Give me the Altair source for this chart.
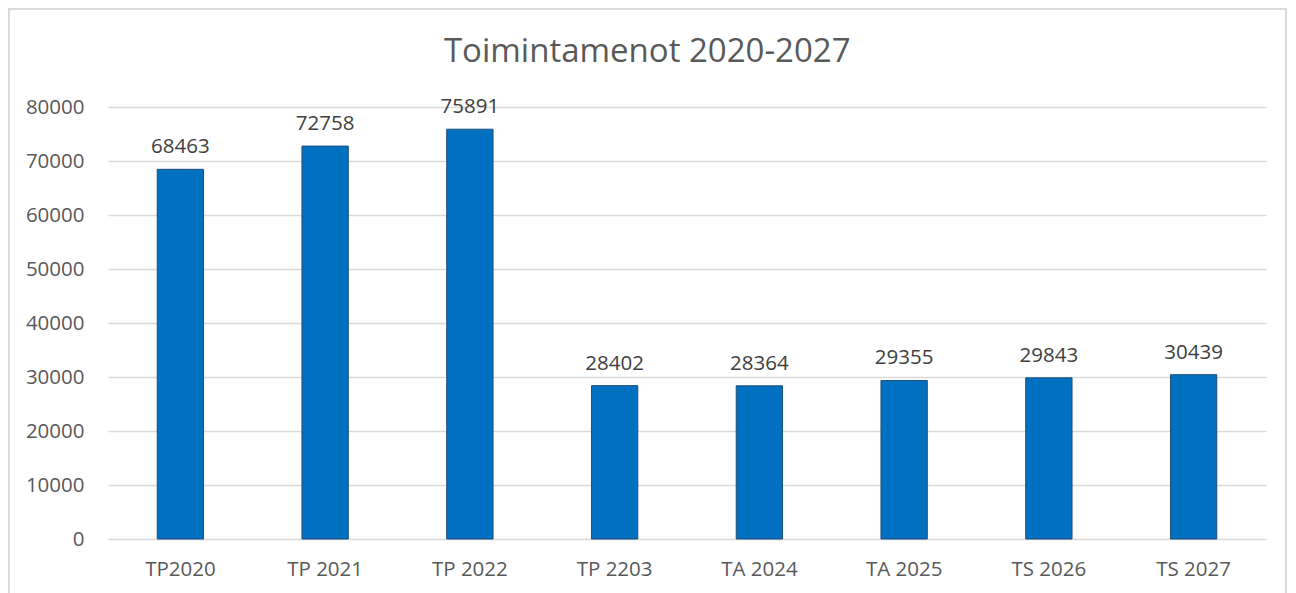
import altair as alt
import pandas as pd

categories = ["TP2020", "TP 2021", "TP 2022", "TP 2203", "TA 2024", "TA 2025", "TS 2026", "TS 2027"]
values = [68463, 72758, 75891, 28402, 28364, 29355, 29843, 30439]

df = pd.DataFrame({"cat": categories, "val": values})

FONT = "Open Sans"
TXT = "#595959"

base = alt.Chart(df).encode(
    x=alt.X("cat:N", sort=categories, title=None,
            scale=alt.Scale(paddingInner=0.68, paddingOuter=0.34),
            axis=alt.Axis(labelAngle=0, labelFont=FONT, labelFontSize=20.5, labelColor=TXT,
                          ticks=False, domain=False, labelPadding=20)),
)

bars = base.mark_bar(color="#0070C0", stroke="#1F4E79", strokeWidth=1).encode(
    y=alt.Y("val:Q", title=None,
            scale=alt.Scale(domain=[0, 80000]),
            axis=alt.Axis(values=list(range(0, 80001, 10000)), labelFont=FONT, labelFontSize=20.5,
                          labelColor=TXT, ticks=False, domain=False, labelPadding=24,
                          gridColor="#d9d9d9", gridWidth=1.3, format="d"))
)

labels = base.mark_text(font=FONT, fontSize=20.5, color="#404040", baseline="alphabetic", dy=-16).encode(
    y="val:Q", text=alt.Text("val:Q", format="d")
)

frame = alt.Chart(df).mark_rect(fill=None, stroke="#d9d9d9", strokeWidth=1.5, clip=False).encode(
    x=alt.value(-99.5), x2=alt.value(1178), y=alt.value(-98.5), y2=alt.value(600)
)

chart = alt.layer(frame, bars, labels).properties(
    width=1158, height=432,
    title=alt.TitleParams("Toimintamenot 2020-2027", font=FONT, fontSize=33, color=TXT,
                          fontWeight="normal", offset=-61, frame="bounds"),
    autosize=alt.AutoSizeParams(type="none"),
    padding={"left": 100, "top": 99, "right": 22, "bottom": 54},
).configure_view(stroke=None)

chart.save("out.html", embed_options={"renderer": "svg", "actions": False})
